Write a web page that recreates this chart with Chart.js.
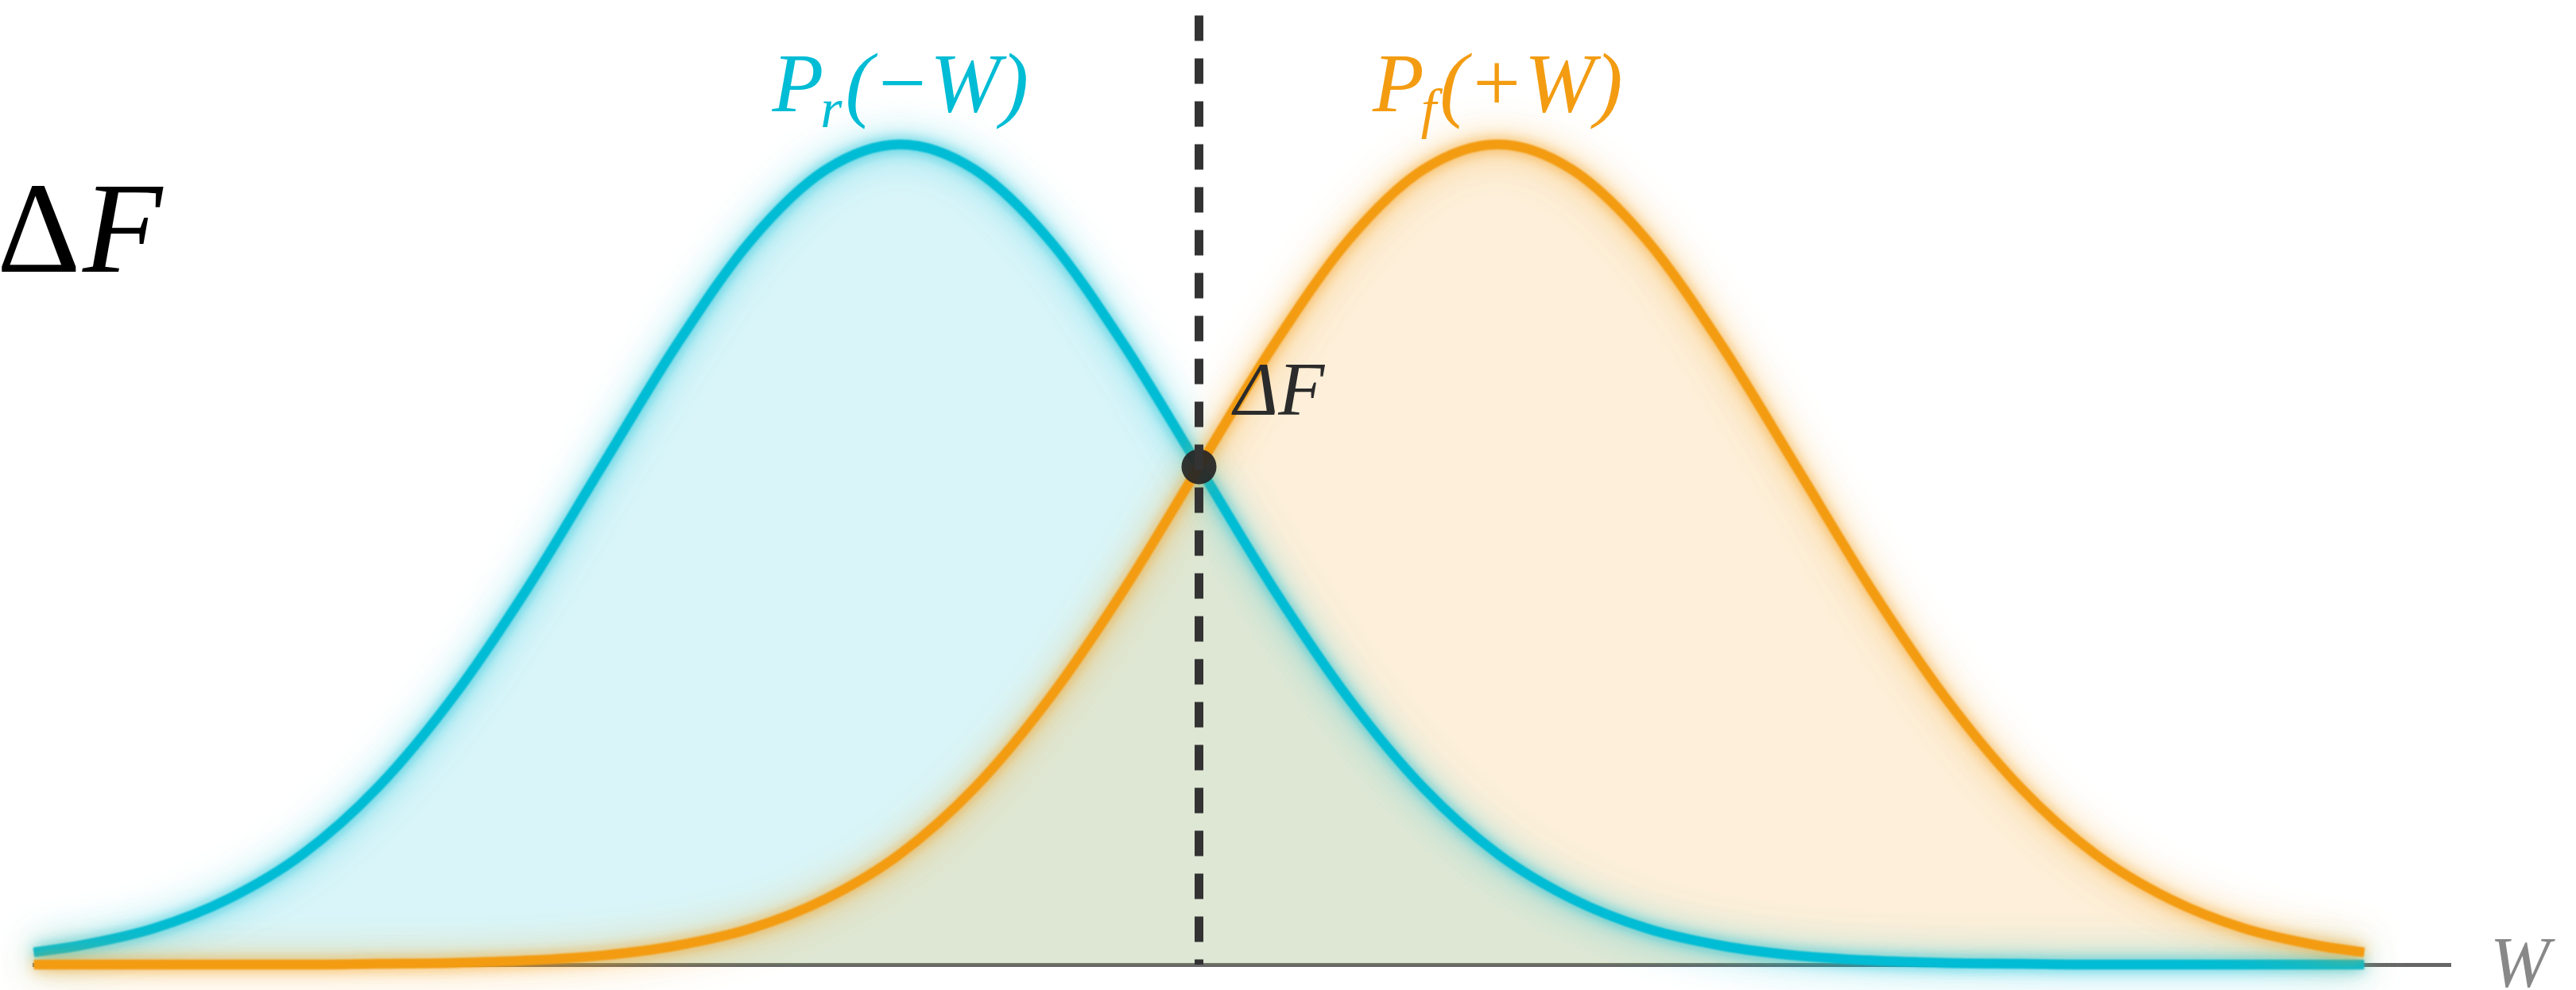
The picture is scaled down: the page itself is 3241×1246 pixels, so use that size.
<!DOCTYPE html>
<html>
<head>
<meta charset="utf-8">
<title>Distribuciones de trabajo</title>
<script src="https://cdn.jsdelivr.net/npm/chart.js@4.4.1/dist/chart.umd.min.js"></script>
<style>
    html, body { margin: 0; padding: 0; background: #fff; }
    #wrap { width: 3241px; height: 1246px; position: relative; }
</style>
</head>
<body>
<div id="wrap"><canvas id="work-chart"></canvas></div>
<script>
// Valores de trabajo W (eje x) y densidades normalizadas
const wValues = [-3.9, -3.75, -3.5, -3.25, -3.0, -2.75, -2.5, -2.25, -2.0, -1.75, -1.5, -1.25, -1.0,
    -0.75, -0.5, -0.25, 0, 0.25, 0.5, 0.75, 1.0, 1.25, 1.5, 1.75, 2.0, 2.25, 2.5, 2.75, 3.0, 3.25, 3.5, 3.75, 3.9];

// P_r(-W): proceso inverso
const reverseP = [0.015, 0.023, 0.044, 0.080, 0.135, 0.216, 0.325, 0.458, 0.607, 0.755, 0.883, 0.969, 1.000,
    0.969, 0.883, 0.755, 0.607, 0.458, 0.325, 0.216, 0.135, 0.080, 0.044, 0.023, 0.011, 0.005, 0.002, 0.001, 0.000, 0.000, 0.000, 0.000, 0.000];

// P_f(+W): proceso directo
const forwardP = [0.000, 0.000, 0.000, 0.000, 0.000, 0.001, 0.002, 0.005, 0.011, 0.023, 0.044, 0.080, 0.135,
    0.216, 0.325, 0.458, 0.607, 0.755, 0.883, 0.969, 1.000, 0.969, 0.883, 0.755, 0.607, 0.458, 0.325, 0.216, 0.135, 0.080, 0.044, 0.023, 0.015];

// Punto de cruce (ΔF) y línea vertical discontinua
const crossW = [0];
const crossP = [0.607];
const markerP = [1.157, 0];

const CYAN = '#00bcd4';
const ORANGE = '#f39c12';
const SERIF = '"Liberation Serif", "DejaVu Serif", serif';

const toPoints = (xs, ys) => xs.map((x, i) => ({ x, y: ys[i] }));

// Halo suave alrededor de las curvas (dos pasadas con sombra)
const glowPlugin = {
    id: 'glow',
    beforeDatasetDraw(chart, args) {
        const ds = chart.data.datasets[args.index];
        if (!ds.glow) return;
        const ctx = chart.ctx;
        ctx.save();
        ctx.shadowColor = ds.glow;
        ctx.shadowBlur = 48;
        ctx.filter = 'blur(1.2px)';
    },
    afterDatasetDraw(chart, args) {
        const ds = chart.data.datasets[args.index];
        if (!ds.glow) return;
        const ctx = chart.ctx;
        ctx.shadowBlur = 18;
        args.meta.dataset.draw(ctx, chart.chartArea);
        ctx.restore();
    }
};

// Etiquetas en notación matemática
const labelsPlugin = {
    id: 'mathLabels',
    afterDraw(chart) {
        const ctx = chart.ctx;
        const x = chart.scales.x;
        const y = chart.scales.y;
        ctx.save();
        ctx.textBaseline = 'alphabetic';
        ctx.textAlign = 'left';

        // Etiqueta con subíndice centrada sobre el pico
        function subLabel(cx, baseY, sub, rest, color) {
            const big = `italic 106px ${SERIF}`;
            const small = `italic 70px ${SERIF}`;
            ctx.fillStyle = color;
            ctx.font = big;
            const wP = ctx.measureText('P').width;
            const wRest = ctx.measureText(rest).width;
            ctx.font = small;
            const wSub = ctx.measureText(sub).width;
            let left = cx - (wP + wSub + wRest) / 2;
            ctx.font = big;
            ctx.fillText('P', left, baseY);
            ctx.font = small;
            ctx.fillText(sub, left + wP - 4, baseY + 20);
            ctx.font = big;
            ctx.fillText(rest, left + wP + wSub, baseY);
        }

        const peakY = y.getPixelForValue(1);
        subLabel(x.getPixelForValue(-1), peakY - 42, 'r', '(\u2212W)', CYAN);
        subLabel(x.getPixelForValue(1), peakY - 42, 'f', '(+W)', ORANGE);

        // ΔF junto al punto de cruce
        const px = x.getPixelForValue(crossW[0]);
        const py = y.getPixelForValue(crossP[0]);
        ctx.fillStyle = '#2b2b2b';
        ctx.font = `italic 95px ${SERIF}`;
        ctx.fillText('\u0394F', px + 44, py - 65);

        // ΔF grande a la izquierda
        ctx.fillStyle = '#000';
        ctx.font = `164px ${SERIF}`;
        ctx.fillText('\u0394', -4, 342);
        ctx.font = `italic 164px ${SERIF}`;
        ctx.fillText('F', 104, 342);

        // Nombre del eje
        ctx.fillStyle = '#888';
        ctx.font = `italic 90px ${SERIF}`;
        ctx.fillText('W', x.right + 50, y.getPixelForValue(0) + 28);
        ctx.restore();
    }
};

const ctx = document.getElementById('work-chart').getContext('2d');
new Chart(ctx, {
    type: 'line',
    data: {
        datasets: [
            {
                label: 'ΔF',
                type: 'scatter',
                data: toPoints(crossW, crossP),
                pointRadius: 22,
                pointBackgroundColor: 'rgba(38, 38, 38, 0.93)',
                pointBorderWidth: 0,
                order: 1
            },
            {
                label: 'linea',
                data: toPoints([0, 0], markerP),
                borderColor: '#333',
                borderWidth: 11,
                borderDash: [32, 22],
                pointRadius: 0,
                fill: false,
                order: 0
            },
            {
                label: 'P_f(+W)',
                data: toPoints(wValues, forwardP),
                borderColor: ORANGE,
                backgroundColor: 'rgba(243, 156, 18, 0.16)',
                glow: 'rgba(243, 156, 18, 0.85)',
                borderWidth: 11,
                pointRadius: 0,
                cubicInterpolationMode: 'monotone',
                fill: 'origin',
                clip: false,
                order: 2
            },
            {
                label: 'P_r(-W)',
                data: toPoints(wValues, reverseP),
                borderColor: CYAN,
                backgroundColor: 'rgba(0, 188, 212, 0.15)',
                glow: 'rgba(0, 188, 212, 0.85)',
                borderWidth: 11,
                pointRadius: 0,
                cubicInterpolationMode: 'monotone',
                fill: 'origin',
                clip: false,
                order: 3
            }
        ]
    },
    options: {
        responsive: true,
        maintainAspectRatio: false,
        animation: false,
        layout: { autoPadding: false, padding: { left: 43, right: 158, top: 0, bottom: 32 } },
        plugins: {
            legend: { display: false },
            tooltip: { enabled: false },
            filler: { drawTime: 'beforeDatasetsDraw' }
        },
        scales: {
            x: {
                type: 'linear',
                min: -3.9,
                max: 4.19,
                grid: { display: false, drawTicks: false },
                ticks: { display: false },
                border: { display: true, color: '#666', width: 5 }
            },
            y: {
                display: false,
                min: 0,
                max: 1.176
            }
        }
    },
    plugins: [glowPlugin, labelsPlugin]
});
</script>
</body>
</html>
